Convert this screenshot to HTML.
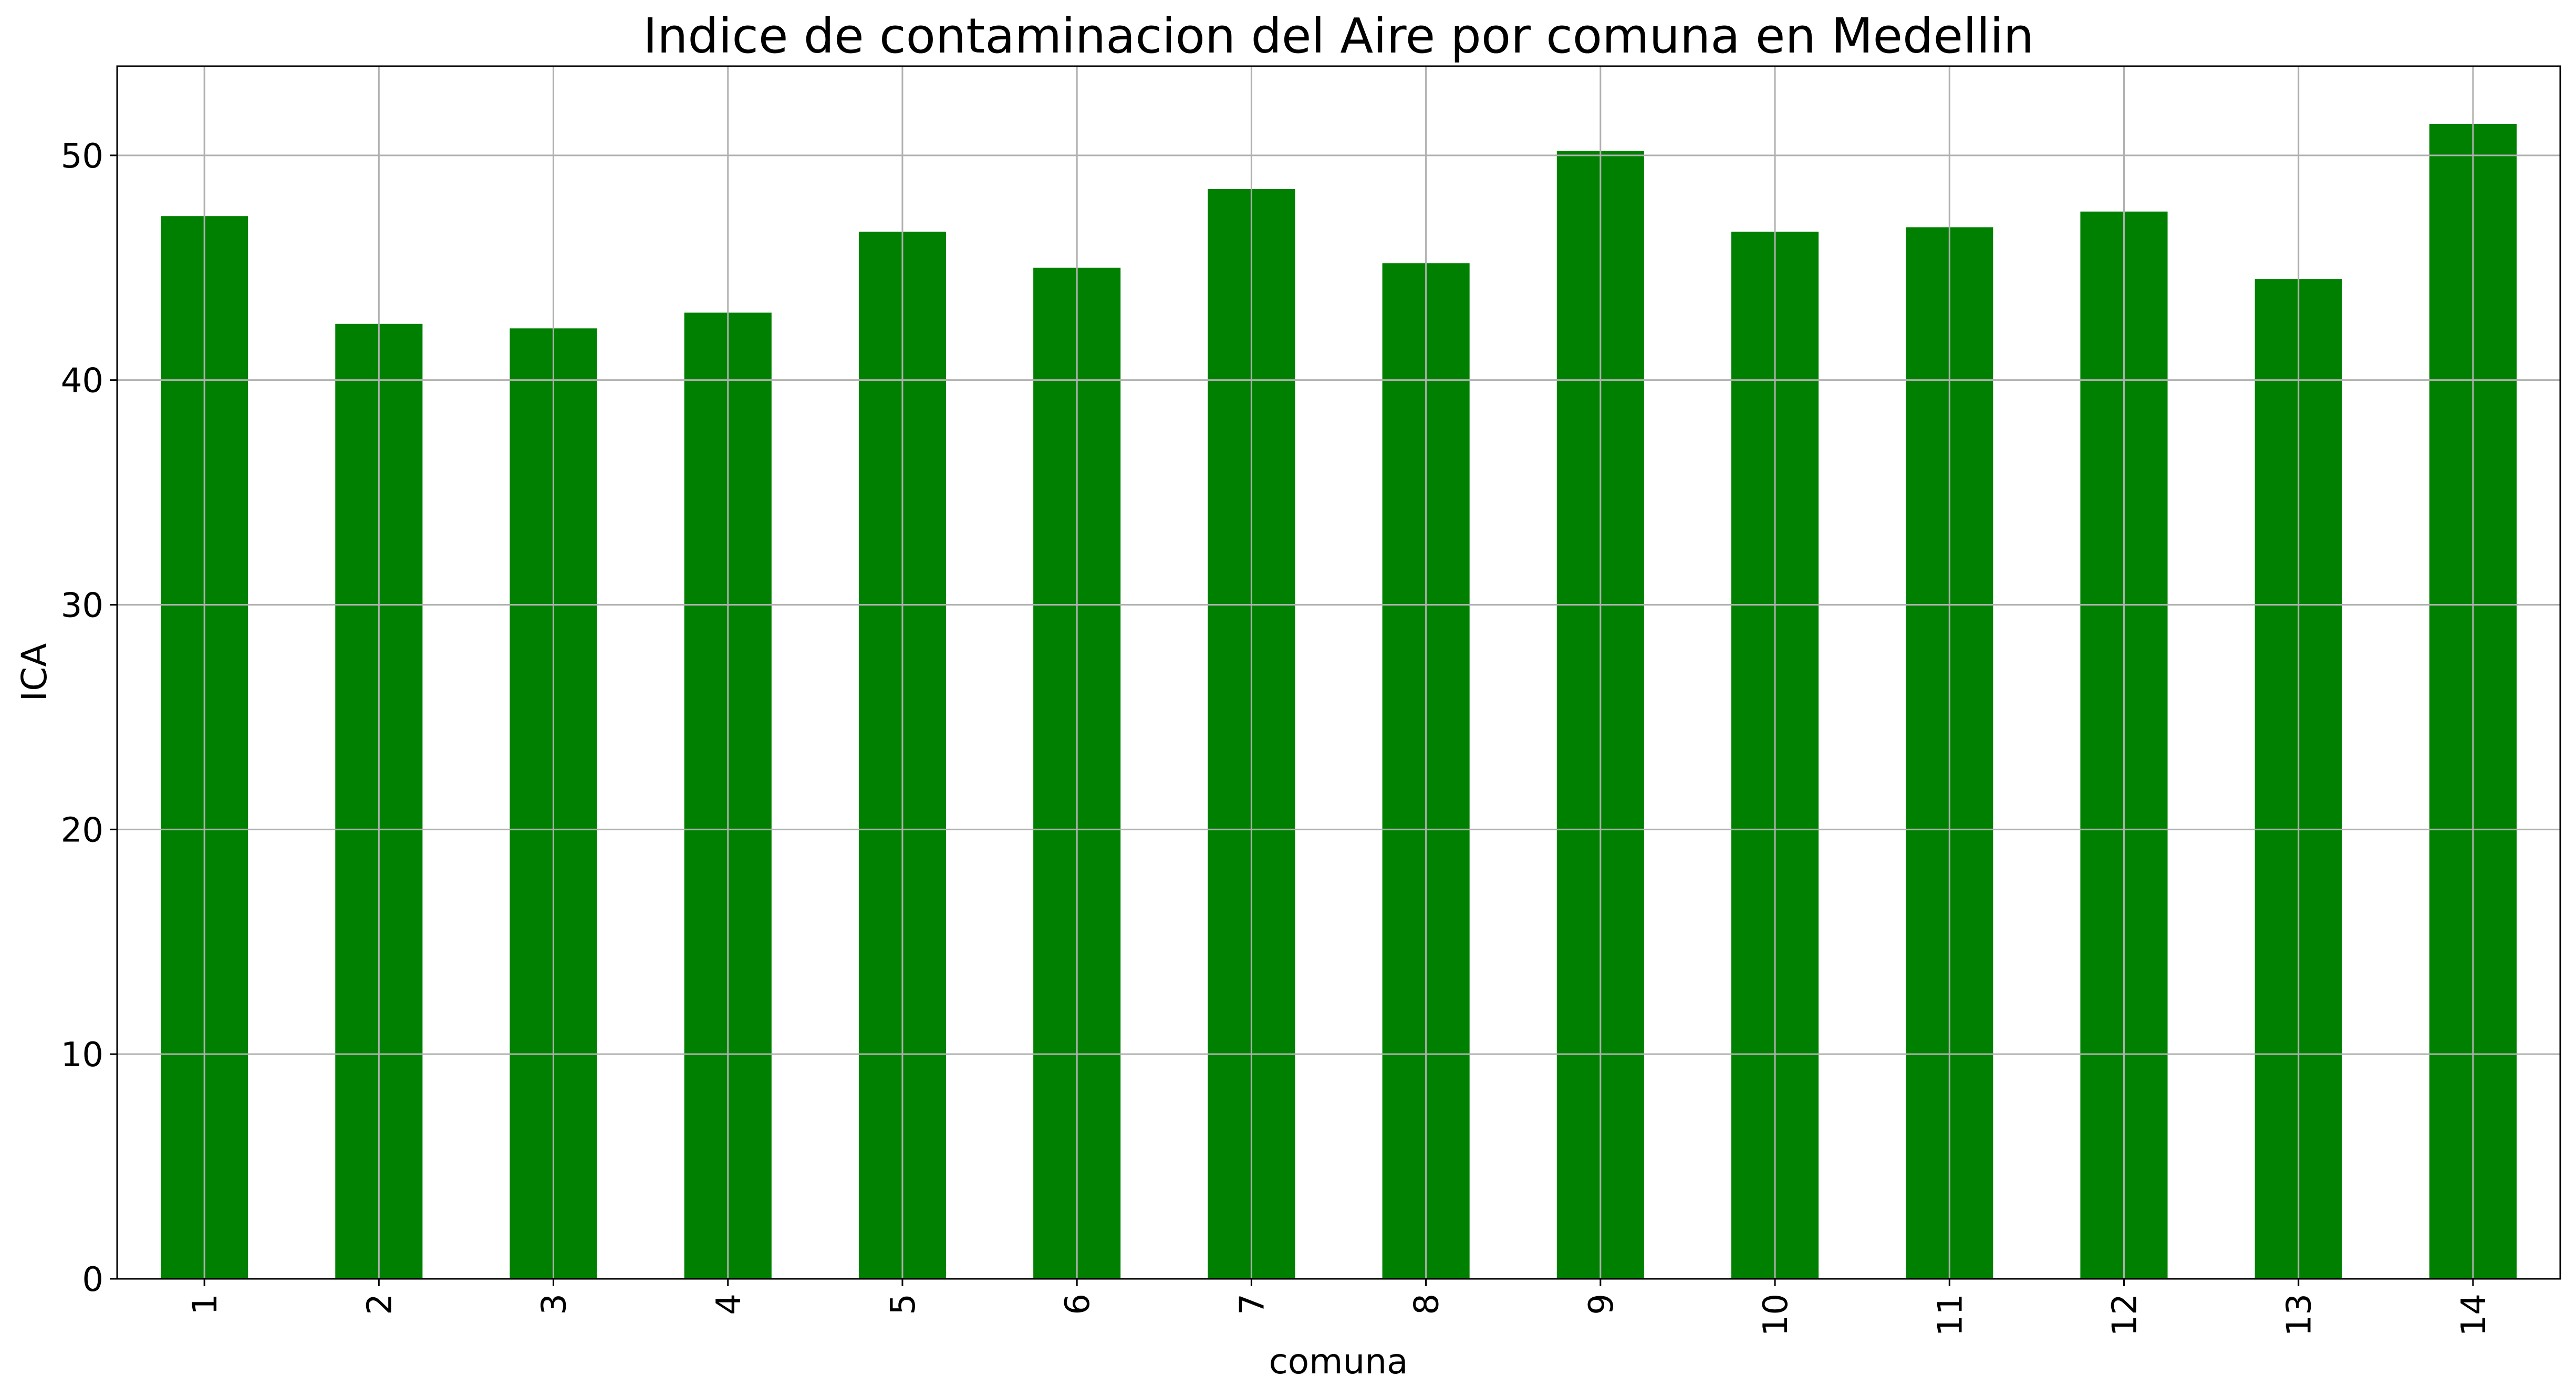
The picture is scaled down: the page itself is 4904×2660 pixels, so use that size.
<!DOCTYPE html>
<html><head><meta charset="utf-8"><style>
html,body{margin:0;padding:0;background:#fff}
svg{display:block}
text{font-family:"DejaVu Sans","Liberation Sans",sans-serif;fill:#000}
</style></head><body>
<svg id="chart" width="4904" height="2660" viewBox="0 0 4904 2660" xmlns="http://www.w3.org/2000/svg">
<rect x="0" y="0" width="4904" height="2660" fill="#fff"/>
<text x="2548" y="100" font-size="92" text-anchor="middle">Indice de contaminacion del Aire por comuna en Medellin</text>
<g id="bars"></g>
<g id="grid"></g>
<g id="vgrid"></g>
<g id="axes"></g>
<text x="2548" y="2615" font-size="66" text-anchor="middle">comuna</text>
<text x="0" y="0" font-size="66" text-anchor="middle" transform="translate(88,1280) rotate(-90)">ICA</text>
</svg>
<script>
const categories = ["1","2","3","4","5","6","7","8","9","10","11","12","13","14"];
const icaValues = [47.3, 42.5, 42.3, 43.0, 46.6, 45.0, 48.5, 45.2, 50.2, 46.6, 46.8, 47.5, 44.5, 51.4];
const yTicks = [0, 10, 20, 30, 40, 50];

const NS = "http://www.w3.org/2000/svg";
const L = 223, R = 4874, T = 126, B = 2435;
const ymax = Math.max(...icaValues) * 1.05;
const n = categories.length;
const unit = (R - L) / n;
function xScale(i){ return L + (i + 0.5) * unit; }
function yScale(v){ return B - v / ymax * (B - T); }
function mk(tag, attrs, parent){
  const e = document.createElementNS(NS, tag);
  for (const k in attrs) e.setAttribute(k, attrs[k]);
  parent.appendChild(e);
  return e;
}
const grid = document.getElementById('grid');
const vgrid = document.getElementById('vgrid');
const bars = document.getElementById('bars');
const axes = document.getElementById('axes');

yTicks.forEach(t => {
  const y = yScale(t);
  const g = mk('line', {x1:L, x2:R, y1:y, y2:y, stroke:'#b0b0b0', 'stroke-width':3}, grid);
  
  
  const tk = mk('line', {x1:L-14, x2:L, y1:y, y2:y, stroke:'#000', 'stroke-width':3}, axes);
  
  
  const lb = mk('text', {x:L-26, y:y+23, 'font-size':64, 'text-anchor':'end'}, axes);
  lb.textContent = t;
  
  
});

icaValues.forEach((v, i) => {
  const cx = xScale(i), w = unit * 0.5;
  const r = mk('rect', {x:cx - w/2, y:yScale(v), width:w, height:B - yScale(v), fill:'#008000'}, bars);
  
  
});

categories.forEach((c, i) => {
  const x = xScale(i);
  const g = mk('line', {x1:x, x2:x, y1:T, y2:B, stroke:'#b0b0b0', 'stroke-width':3}, vgrid);
  
  
  const tk = mk('line', {x1:x, x2:x, y1:B, y2:B+14, stroke:'#000', 'stroke-width':3}, axes);
  
  
  const lb = mk('text', {x:0, y:0, 'font-size':64, 'text-anchor':'end', transform:'translate(' + (x+23) + ',' + (B+28) + ') rotate(-90)'}, axes);
  lb.textContent = c;
  
  
});

const frame = mk('rect', {x:L, y:T, width:R-L, height:B-T, fill:'none', stroke:'#000', 'stroke-width':3}, axes);


</script>
</body></html>
